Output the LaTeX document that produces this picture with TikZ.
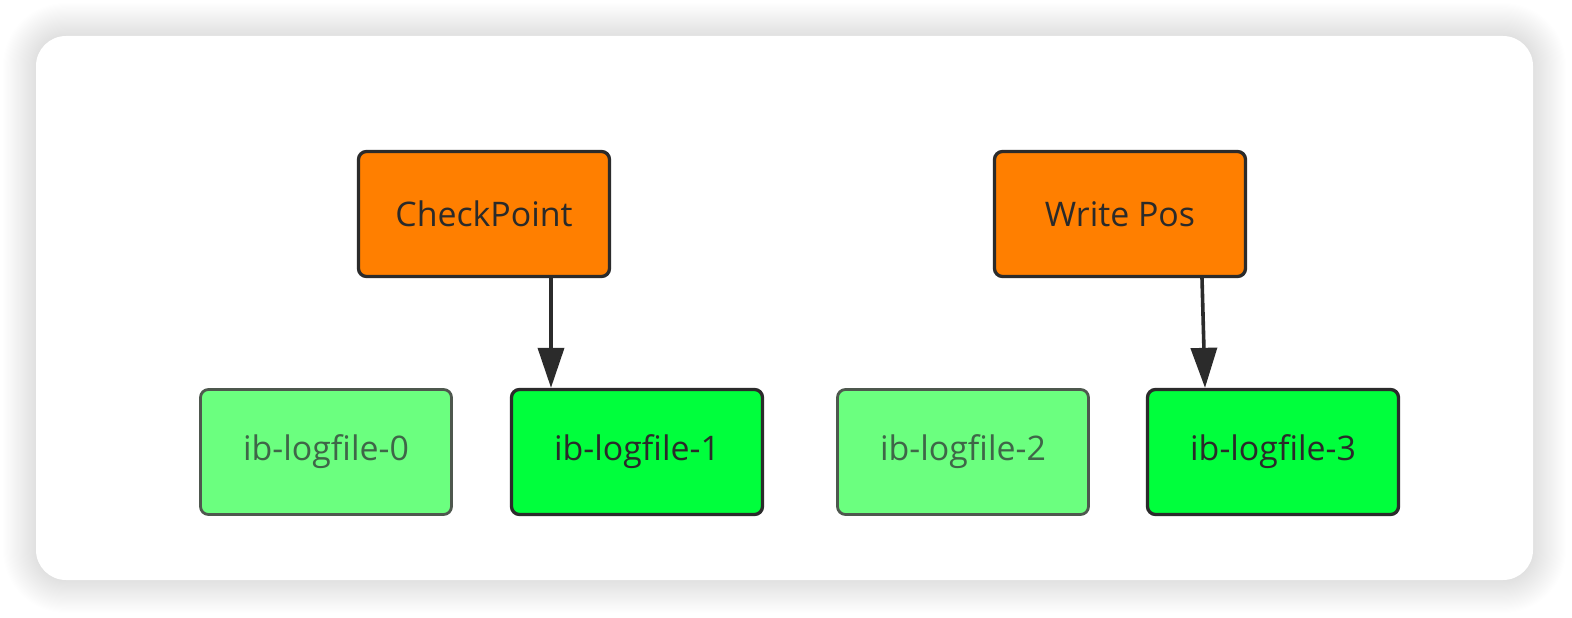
\documentclass[tikz,border=0pt]{standalone}
\usepackage{fontspec}
\setmainfont{Open Sans}
\usetikzlibrary{arrows.meta}
\definecolor{orangefill}{HTML}{FF7F00}
\definecolor{greenfill}{HTML}{00FF3C}
\definecolor{lightgreen}{HTML}{6BFF7F}
\definecolor{darkline}{HTML}{2B2B2B}
\definecolor{lightline}{HTML}{4E584E}
\definecolor{darktext}{HTML}{2A2A2A}
\definecolor{lighttext}{HTML}{3F6648}
\begin{document}
\begin{tikzpicture}[x=1bp,y=-1bp,
  box/.style={rectangle, rounded corners=8bp, minimum width=251bp, minimum height=125bp,
    line width=3.3bp, inner sep=0pt, font=\fontsize{34}{40}\selectfont},
  topbox/.style={box, draw=darkline, fill=orangefill, text=darktext},
  activebox/.style={box, draw=darkline, fill=greenfill, text=darktext},
  idlebox/.style={box, draw=lightline, fill=lightgreen, text=lighttext, line width=2.8bp},
  arr/.style={draw=darkline, line width=3.6bp, -{Triangle[length=40bp,width=26bp]}}]
\useasboundingbox (0,0) rectangle (1572,618);
\fill[white] (0,0) rectangle (1572,618);
% soft shadow around the card
\foreach \i in {1,...,30}{
  \fill[black, fill opacity=0.0055, rounded corners={30+1.1*\i}]
    ({36-1.1*\i},{36-1.1*\i}) rectangle ({1533+1.1*\i},{580+1.1*\i});
}
\fill[white, rounded corners=30bp] (36,36) rectangle (1533,580);
% nodes
\node[topbox] (cp) at (484,214) {CheckPoint};
\node[topbox] (wp) at (1120,214) {Write Pos};
\node[idlebox] (l0) at (326,452) {ib-logfile-0};
\node[activebox] (l1) at (637,452) {ib-logfile-1};
\node[idlebox] (l2) at (963,452) {ib-logfile-2};
\node[activebox] (l3) at (1273,452) {ib-logfile-3};
% connectors
\draw[arr] ([xshift=67bp]cp.south) -- ([xshift=-86bp]l1.north);
\draw[arr] ([xshift=82bp]wp.south) -- ([xshift=-68bp]l3.north);
\end{tikzpicture}
\end{document}
